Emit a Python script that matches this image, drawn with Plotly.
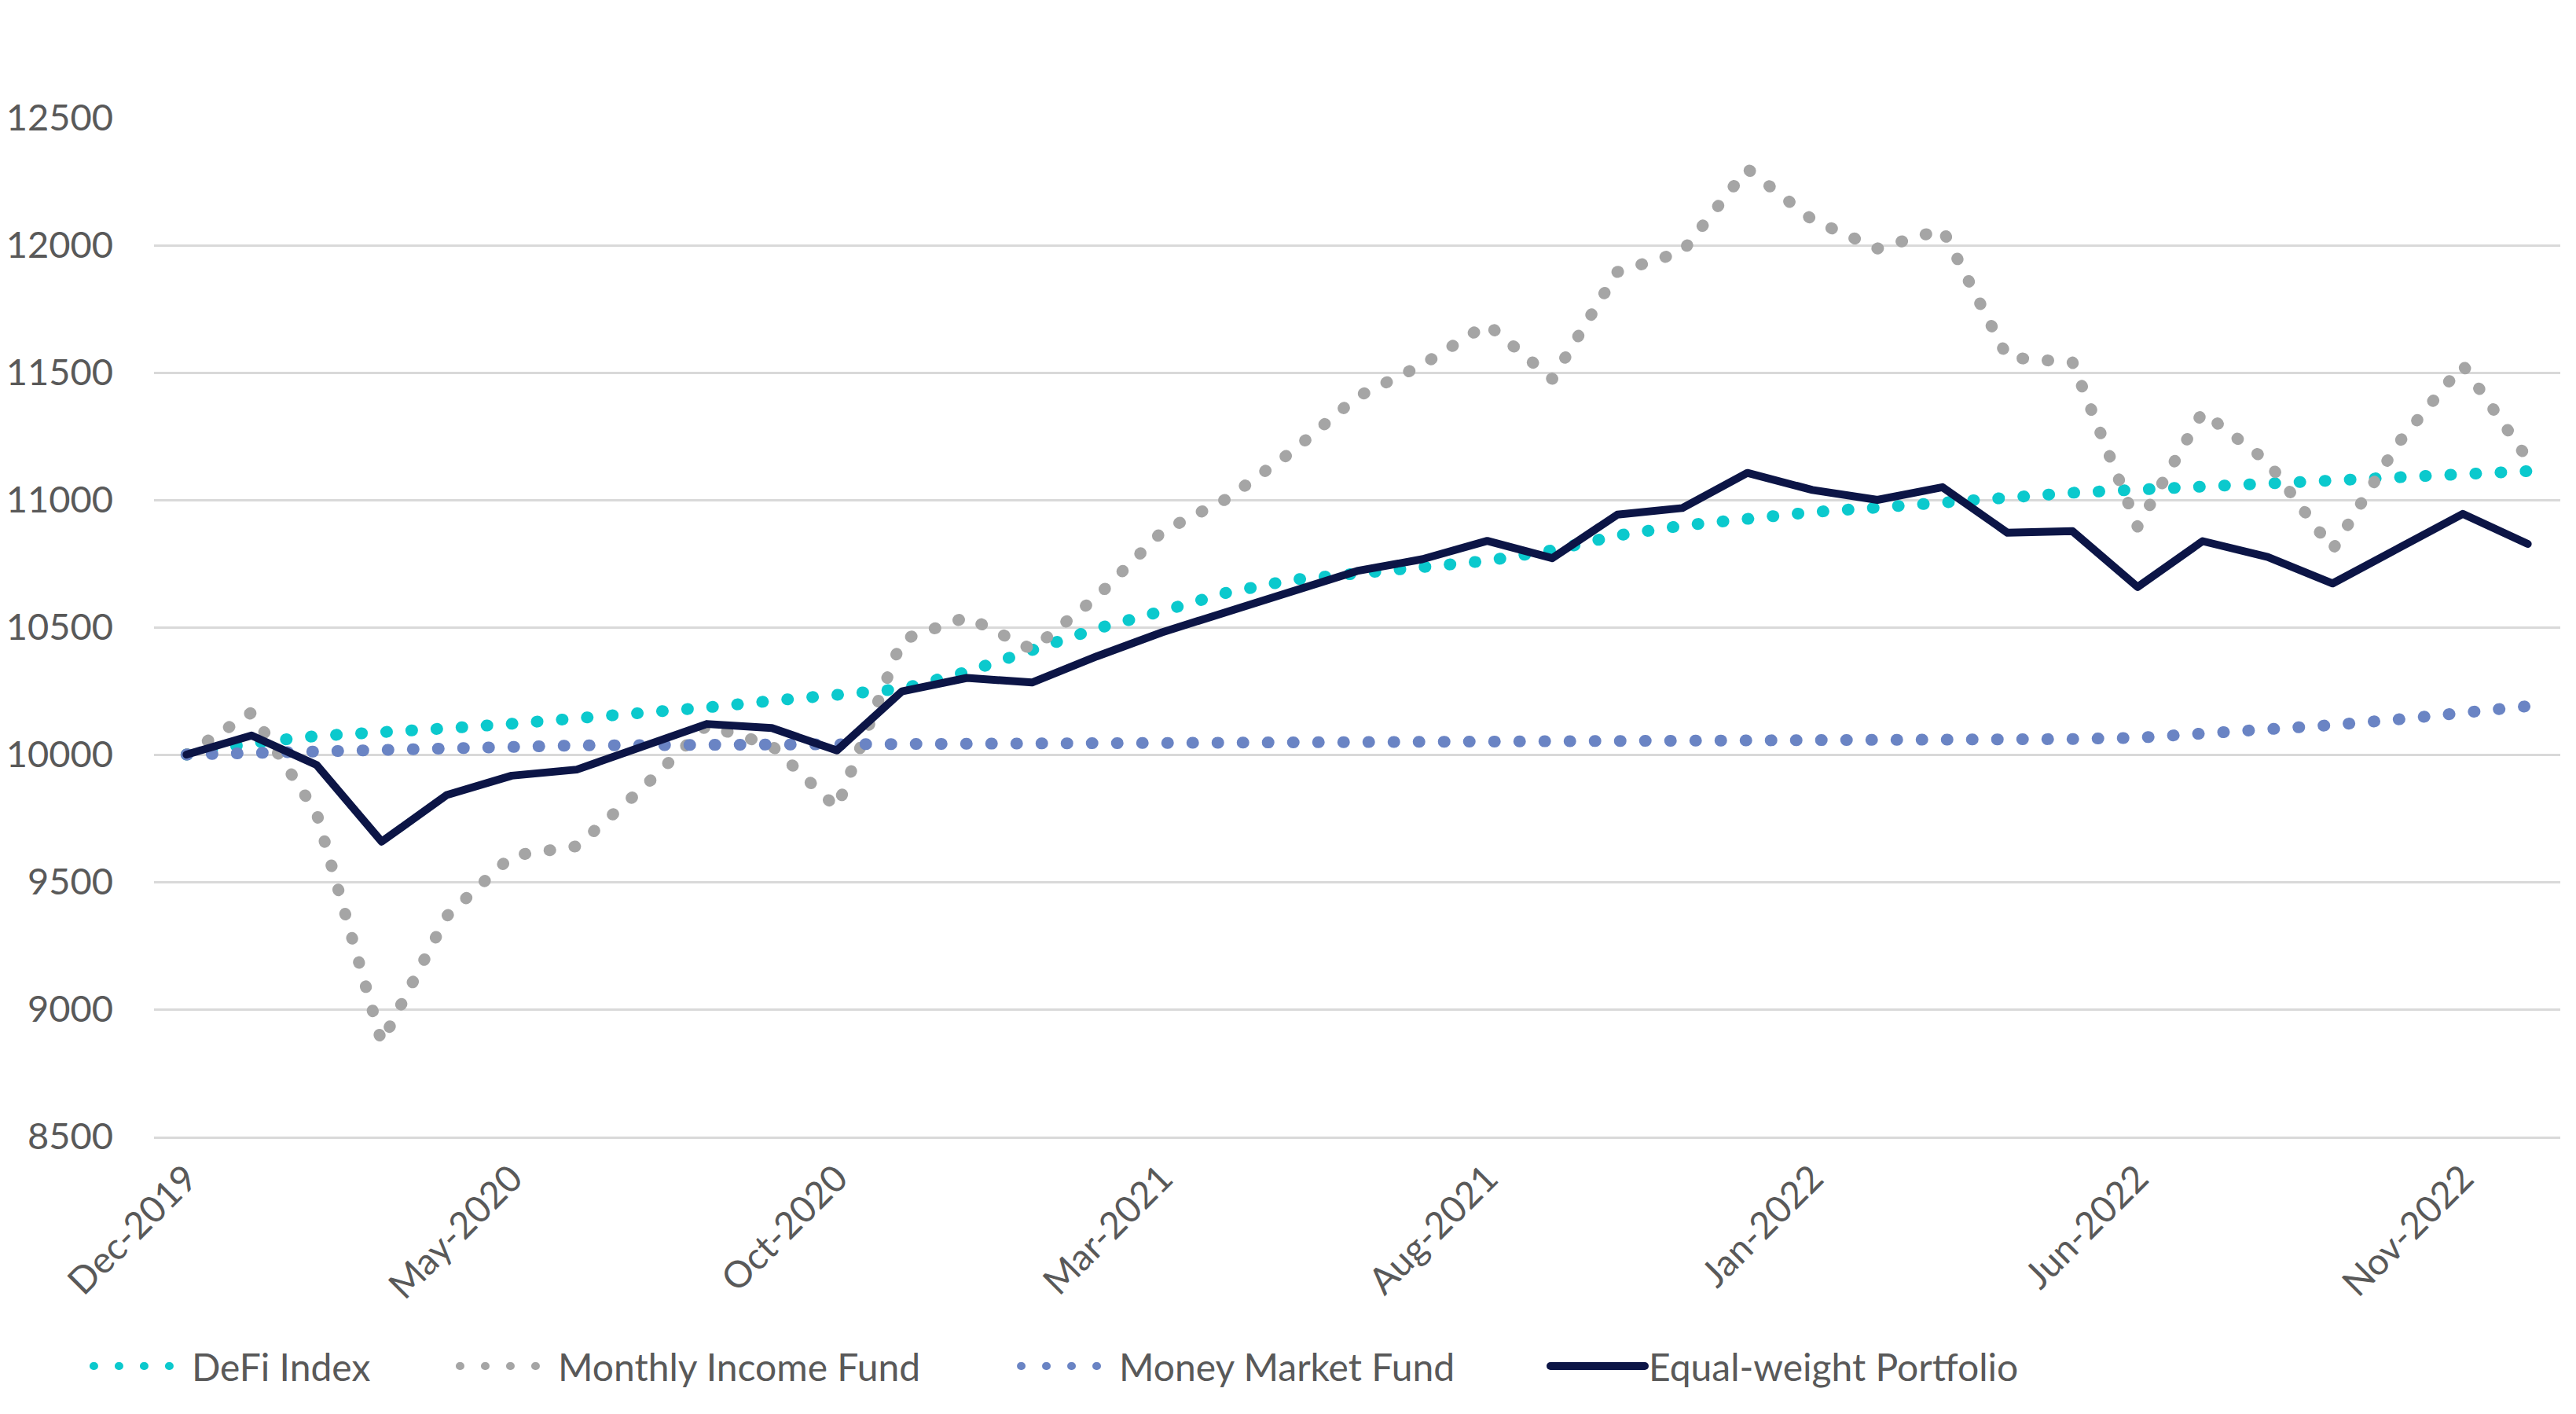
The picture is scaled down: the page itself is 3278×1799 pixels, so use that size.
import plotly.graph_objects as go

months = ["Dec-2019", "Jan-2020", "Feb-2020", "Mar-2020", "Apr-2020", "May-2020", "Jun-2020",
          "Jul-2020", "Aug-2020", "Sep-2020", "Oct-2020", "Nov-2020", "Dec-2020",
          "Jan-2021", "Feb-2021", "Mar-2021", "Apr-2021", "May-2021", "Jun-2021",
          "Jul-2021", "Aug-2021", "Sep-2021", "Oct-2021", "Nov-2021", "Dec-2021",
          "Jan-2022", "Feb-2022", "Mar-2022", "Apr-2022", "May-2022", "Jun-2022",
          "Jul-2022", "Aug-2022", "Sep-2022", "Oct-2022", "Nov-2022", "Dec-2022"]

defi_index = [10000, 10045, 10073, 10093, 10103, 10121, 10141, 10159, 10185, 10211, 10232,
              10258, 10325, 10408, 10495, 10563, 10636, 10686, 10709, 10727, 10761, 10802,
              10860, 10899, 10928, 10952, 10970, 10991, 11012, 11028, 11040, 11051, 11060,
              11070, 11082, 11100, 11113]

monthly_income = [10000, 10165, 9770, 8870, 9365, 9602, 9640, 9865, 10115, 10035, 9790,
                  10450, 10540, 10413, 10620, 10875, 11005, 11190, 11405, 11530, 11690, 11475,
                  11895, 11975, 12300, 12100, 11987, 12062, 11560, 11540, 10895, 11345, 11150,
                  10805, 11220, 11530, 11160]

money_market = [10000, 10006, 10016, 10026, 10031, 10034, 10036, 10037, 10038, 10039, 10040,
                10041, 10041, 10042, 10042, 10043, 10044, 10044, 10045, 10045, 10046, 10046,
                10047, 10048, 10048, 10049, 10050, 10052, 10054, 10061, 10066, 10080, 10094,
                10116, 10138, 10163, 10190]

equal_weight = [10000, 10075, 9959, 9658, 9841, 9917, 9941, 10030, 10120, 10104, 10016,
                10248, 10301, 10283, 10386, 10480, 10558, 10640, 10721, 10767, 10839, 10771,
                10942, 10968, 11106, 11039, 11000, 11050, 10871, 10877, 10658, 10838, 10776,
                10672, 10809, 10945, 10827]

tick_labels = months[::5]

DOT = "1px,31px"
fig = go.Figure()
fig.add_trace(go.Scatter(x=months, y=defi_index, name="DeFi Index", mode="lines",
                         legend="legend",
                         line=dict(color="#0BC9CD", width=15, dash=DOT)))
fig.add_trace(go.Scatter(x=months, y=monthly_income, name="Monthly Income Fund", mode="lines",
                         legend="legend2",
                         line=dict(color="#A5A5A5", width=15, dash=DOT)))
fig.add_trace(go.Scatter(x=months, y=money_market, name="Money Market Fund", mode="lines",
                         legend="legend3",
                         line=dict(color="#6A84C4", width=15, dash=DOT)))
fig.add_trace(go.Scatter(x=months, y=equal_weight, name="Equal-weight Portfolio", mode="lines",
                         legend="legend4",
                         line=dict(color="#0C1546", width=10)))

font_family = "Lato, 'Open Sans', sans-serif"


def leg(x):
    return dict(orientation="h", x=x, xanchor="left", y=-0.2255, yanchor="middle",
                font=dict(size=48, color="#595959", family=font_family), itemwidth=120,
                bgcolor="rgba(0,0,0,0)")


fig.update_layout(
    width=3278, height=1799,
    margin=dict(l=188, r=28, t=142, b=361, autoexpand=False),
    paper_bgcolor="white", plot_bgcolor="white",
    font=dict(family=font_family, size=46, color="#595959"),
    showlegend=True,
    legend=leg(-0.0268),
    legend2=leg(0.1254),
    legend3=leg(0.3586),
    legend4=leg(0.5787),
    xaxis=dict(type="category", range=[-0.5, 36.5], tickmode="array", tickvals=tick_labels,
               ticktext=tick_labels, tickangle=-45, showgrid=False, zeroline=False,
               showline=True, linecolor="#D9D9D9", linewidth=2.5, ticks="", automargin=False,
               tickfont=dict(size=47, color="#595959"), ticklabelstandoff=4),
    yaxis=dict(range=[8500, 12500], dtick=500, tick0=8500, tickformat="d", showgrid=True,
               gridcolor="#D9D9D9", gridwidth=2.5, zeroline=False, showline=False,
               ticks="", automargin=False,
               tickfont=dict(size=47, color="#595959"), ticklabelstandoff=51),
)

post = """
var gd = document.getElementById('{plot_id}');
function roundCaps(){
  gd.querySelectorAll('path.js-line').forEach(function(p){
    p.style.strokeLinecap = 'round';
    p.style.strokeLinejoin = 'round';
  });
}
roundCaps();
gd.on('plotly_afterplot', roundCaps);
"""
fig.write_html("out.html", post_script=post)
